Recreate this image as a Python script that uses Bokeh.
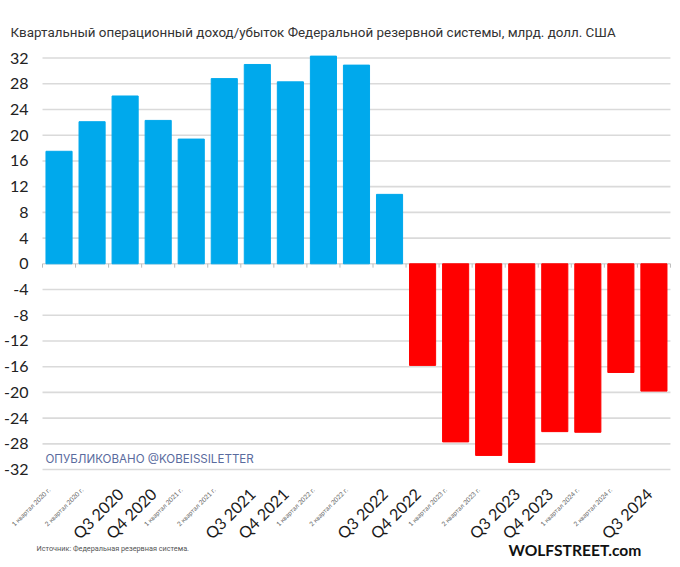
import math
from bokeh.plotting import figure
from bokeh.models import Range1d, Label, ColumnDataSource
from bokeh.core.properties import value
from bokeh.embed import file_html
from bokeh.resources import INLINE

# ---- data ----
quarters = ["1 квартал 2020 г.", "2 квартал 2020 г.", "Q3 2020", "Q4 2020",
            "1 квартал 2021 г.", "2 квартал 2021 г.", "Q3 2021", "Q4 2021",
            "1 квартал 2022 г.", "2 квартал 2022 г.", "Q3 2022", "Q4 2022",
            "1 квартал 2023 г.", "2 квартал 2023 г.", "Q3 2023", "Q4 2023",
            "1 квартал 2024 г.", "2 квартал 2024 г.", "Q3 2024"]
income = [17.5, 22.1, 26.1, 22.3, 19.4, 28.8, 31.0, 28.3, 32.3, 30.9, 10.8,
          -15.8, -27.7, -29.8, -30.9, -26.1, -26.2, -16.9, -19.8]
y_ticks = list(range(-32, 33, 4))
y_tick_labels = [str(t) for t in y_ticks]
title_text = "Квартальный операционный доход/убыток Федеральной резервной системы, млрд. долл. США"
source_text = "Источник: Федеральная резервная система."
watermark_text = "ОПУБЛИКОВАНО @KOBEISSILETTER"
logo_text = "WOLFSTREET.com"

BLUE = "#00A9EC"
RED = "#FF0000"

n = len(quarters)
idx = list(range(n))
colors = [BLUE if v >= 0 else RED for v in income]
bars = ColumnDataSource(dict(x=idx, top=income, color=colors))

big = [i for i, q in enumerate(quarters) if q.startswith("Q")]
small = [i for i, q in enumerate(quarters) if not q.startswith("Q")]
LABEL_Y = -35.3
big_src = ColumnDataSource(dict(x=big, y=[LABEL_Y] * len(big), t=[quarters[i] for i in big]))
small_src = ColumnDataSource(dict(x=small, y=[LABEL_Y] * len(small), t=[quarters[i] for i in small]))

p = figure(width=680, height=567, output_backend="svg", toolbar_location=None,
           x_range=Range1d(-1.771, 18.804), y_range=Range1d(-47.23, 40.95),
           x_axis_location=None, y_axis_location=None,
           min_border_left=0, min_border_right=0, min_border_top=0, min_border_bottom=0)
p.outline_line_color = None
p.background_fill_color = "white"
p.grid.visible = False

# horizontal gridlines across the category area
left_edge, right_edge = -0.5, n - 0.5
p.segment(x0=[left_edge] * len(y_ticks), y0=y_ticks, x1=[right_edge] * len(y_ticks), y1=y_ticks,
          line_color="#dadada", line_width=1.6)

# y tick labels
p.text(x=[left_edge] * len(y_ticks), y=y_ticks, text=y_tick_labels, x_offset=-14,
       text_align="right", text_baseline="middle", text_font=value("Lato"),
       text_font_size="16px", text_color="#222222")

# bars
p.vbar(x="x", top="top", bottom=0, width=0.79, color="color", source=bars)

# category boundary ticks on zero line
bounds = [i - 0.5 for i in range(n + 1)]
p.segment(x0=bounds, y0=[0] * len(bounds), x1=bounds, y1=[-0.6] * len(bounds),
          line_color="#bbbbbb", line_width=1)

# x labels
p.text(x="x", y="y", text="t", source=big_src, angle=math.pi / 4, x_offset=-5,
       text_align="right", text_baseline="middle", text_font=value("Lato"),
       text_font_size="16px", text_color="#1a1a1a")
p.text(x="x", y="y", text="t", source=small_src, angle=math.pi / 4,
       text_align="right", text_baseline="middle", text_font=value("Lato"),
       text_font_size="6.5px", text_color="#666666", x_offset=-10, y_offset=-2)

# annotations (screen units)
p.add_layout(Label(x=10, y=535, x_units="screen", y_units="screen", text=title_text,
                   text_font="Roboto", text_font_size="13.4px", text_color="#333333",
                   text_baseline="middle"))
p.add_layout(Label(x=45, y=109, x_units="screen", y_units="screen", text=watermark_text,
                   text_font="Inter", text_font_size="11.6px", text_color="#5A6B9E",
                   text_baseline="middle"))
p.add_layout(Label(x=36, y=19, x_units="screen", y_units="screen", text=source_text,
                   text_font="Roboto", text_font_size="7.3px", text_color="#555555",
                   text_baseline="middle"))
p.add_layout(Label(x=508, y=18, x_units="screen", y_units="screen", text=logo_text,
                   text_font="Lato", text_font_size="15.6px", text_font_style="bold",
                   text_color="#111111", text_baseline="middle"))

open("out.html", "w").write(file_html(p, INLINE))
